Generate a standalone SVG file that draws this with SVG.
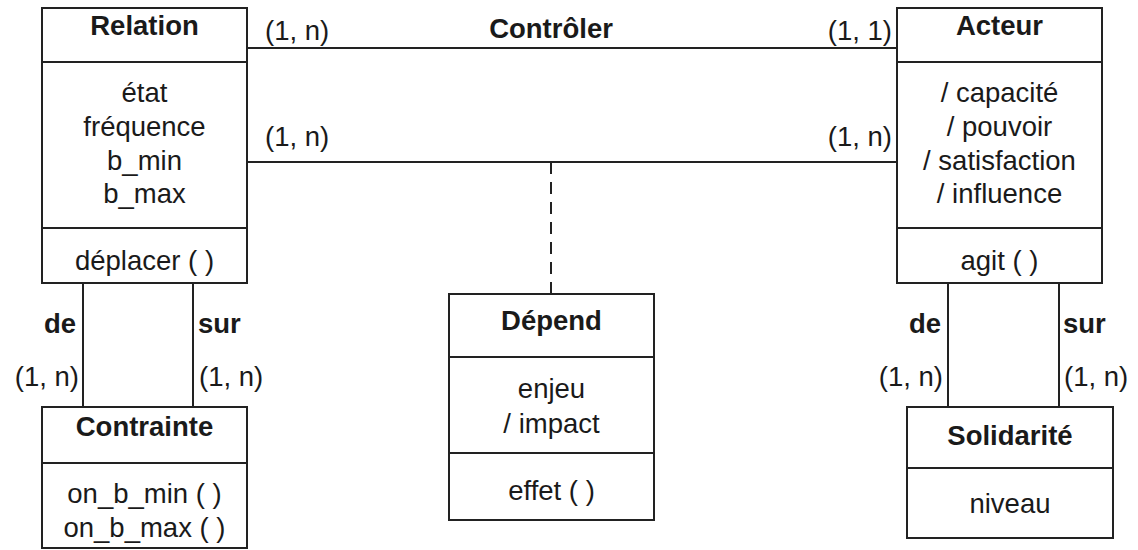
<svg xmlns="http://www.w3.org/2000/svg" width="1138" height="550" viewBox="0 0 1138 550">
<style>
.box{fill:#fff;stroke:#222;stroke-width:2}
.ln{stroke:#222;stroke-width:2;fill:none}
.dash{stroke:#222;stroke-width:2;fill:none;stroke-dasharray:12 8}
text{font-family:"Liberation Sans",Arial,sans-serif;font-size:27.5px;fill:#1a1a1a}
.b{font-weight:bold}
.c{text-anchor:middle}
.r{text-anchor:end}
</style>
<rect width="1138" height="550" fill="#fff"/>
<g id="connectors">
<line class="ln" x1="247" y1="48" x2="897" y2="48"/>
<line class="ln" x1="247" y1="162" x2="897" y2="162"/>
<line class="dash" x1="551" y1="162" x2="551" y2="294"/>
<line class="ln" x1="83" y1="283" x2="83" y2="407"/>
<line class="ln" x1="193" y1="283" x2="193" y2="407"/>
<line class="ln" x1="948" y1="283" x2="948" y2="407"/>
<line class="ln" x1="1059" y1="283" x2="1059" y2="407"/>
<text x="265" y="40">(1, n)</text>
<text class="b c" x="551" y="38">Contrôler</text>
<text class="r" x="892" y="40">(1, 1)</text>
<text x="265" y="146">(1, n)</text>
<text class="r" x="892" y="146">(1, n)</text>
<text class="b r" x="76" y="333">de</text>
<text class="b" x="198" y="333">sur</text>
<text class="r" x="79" y="386">(1, n)</text>
<text x="199" y="386">(1, n)</text>
<text class="b r" x="941" y="333">de</text>
<text class="b" x="1063" y="333">sur</text>
<text class="r" x="943" y="386">(1, n)</text>
<text x="1064" y="386">(1, n)</text>
</g>
<g id="relation">
<rect class="box" x="42" y="8" width="205" height="275"/>
<line class="ln" x1="42" y1="62" x2="247" y2="62"/>
<line class="ln" x1="42" y1="228" x2="247" y2="228"/>
<text class="b c" x="144.5" y="35">Relation</text>
<text class="c" x="144.5" y="102">état</text>
<text class="c" x="144.5" y="136">fréquence</text>
<text class="c" x="144.5" y="170">b_min</text>
<text class="c" x="144.5" y="203">b_max</text>
<text class="c" x="144.5" y="270">déplacer ( )</text>
</g>
<g id="acteur">
<rect class="box" x="897" y="8" width="205" height="275"/>
<line class="ln" x1="897" y1="62" x2="1102" y2="62"/>
<line class="ln" x1="897" y1="228" x2="1102" y2="228"/>
<text class="b c" x="999.5" y="35">Acteur</text>
<text class="c" x="999.5" y="102">/ capacité</text>
<text class="c" x="999.5" y="136">/ pouvoir</text>
<text class="c" x="999.5" y="170">/ satisfaction</text>
<text class="c" x="999.5" y="203">/ influence</text>
<text class="c" x="999.5" y="270">agit ( )</text>
</g>
<g id="contrainte">
<rect class="box" x="42" y="407" width="205" height="141"/>
<line class="ln" x1="42" y1="463" x2="247" y2="463"/>
<text class="b c" x="144.5" y="436">Contrainte</text>
<text class="c" x="144.5" y="503">on_b_min ( )</text>
<text class="c" x="144.5" y="537">on_b_max ( )</text>
</g>
<g id="depend">
<rect class="box" x="449" y="294" width="205" height="226"/>
<line class="ln" x1="449" y1="357" x2="654" y2="357"/>
<line class="ln" x1="449" y1="453" x2="654" y2="453"/>
<text class="b c" x="551.5" y="330">Dépend</text>
<text class="c" x="551.5" y="398">enjeu</text>
<text class="c" x="551.5" y="433">/ impact</text>
<text class="c" x="551.5" y="500">effet ( )</text>
</g>
<g id="solidarite">
<rect class="box" x="907" y="407" width="206" height="131"/>
<line class="ln" x1="907" y1="468" x2="1113" y2="468"/>
<text class="b c" x="1010" y="445">Solidarité</text>
<text class="c" x="1010" y="513">niveau</text>
</g>
</svg>
